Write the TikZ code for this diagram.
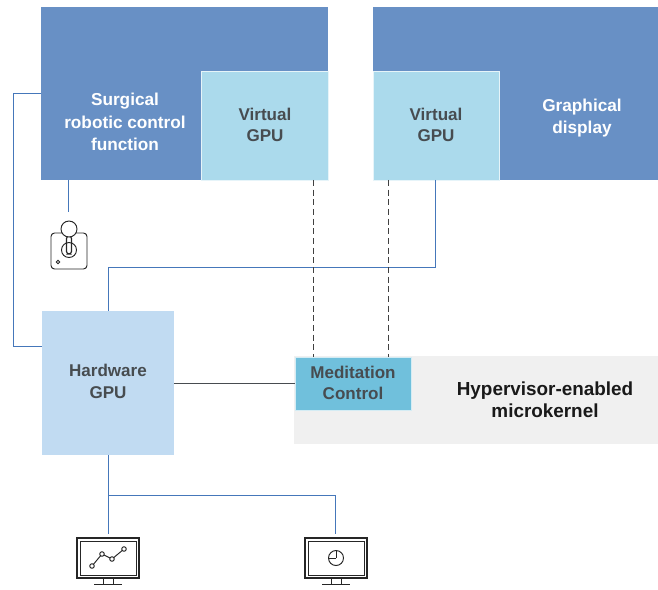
\documentclass[tikz,border=0pt]{standalone}
\usepackage{fontspec}
\setmainfont{Liberation Sans}
\usetikzlibrary{positioning}
\definecolor{funcblue}{HTML}{6890C5}
\definecolor{vgpublue}{HTML}{ABDAEC}
\definecolor{hwblue}{HTML}{C1DBF2}
\definecolor{medblue}{HTML}{70C0DC}
\definecolor{kernelgray}{HTML}{F0F0F0}
\definecolor{linkblue}{HTML}{4577BA}
\definecolor{labelgray}{HTML}{474C50}
\tikzset{
    x=0.02cm, y=-0.02cm,
    lbl/.style={font=\bfseries\fontsize{9.7}{12.3}\selectfont, align=center, text=labelgray, inner sep=0pt},
    lblwhite/.style={lbl, font=\bfseries\fontsize{9.8}{12.8}\selectfont, text=white},
    block/.style={inner sep=0pt, outer sep=0pt, anchor=north west},
    link/.style={draw=linkblue, line width=0.45pt},
    guide/.style={draw=black!75, line width=0.4pt, dash pattern=on 3.5pt off 2pt},
    icon/.style={draw=black!85, line width=0.55pt, inner sep=0pt, outer sep=0pt},
    screen/.style={icon, minimum width=1.24cm, minimum height=0.8cm, line width=0.8pt},
}
\begin{document}
\begin{tikzpicture}
    \useasboundingbox (0,0) rectangle (658,589);

    \node[block, fill=funcblue, minimum width=5.74cm, minimum height=3.46cm] (surgical) at (41,7) {};
    \node[block, fill=funcblue, minimum width=5.7cm, minimum height=3.46cm] (graphical) at (373,7) {};
    \node[block, fill=vgpublue, draw=white!70!vgpublue, line width=0.5pt, minimum width=2.54cm, minimum height=2.18cm] (vgpu1) at (201,71) {};
    \node[block, fill=vgpublue, draw=white!70!vgpublue, line width=0.5pt, minimum width=2.52cm, minimum height=2.18cm] (vgpu2) at (373,71) {};
    \node[block, fill=hwblue, minimum width=2.64cm, minimum height=2.88cm] (hwgpu) at (42,311) {};
    \node[block, fill=kernelgray, minimum width=7.28cm, minimum height=1.76cm] (kernel) at (294,356) {};
    \node[block, fill=medblue, draw=white!70!medblue, line width=0.5pt, minimum width=2.32cm, minimum height=1.06cm] (control) at (295,357) {};

    \node[lblwhite] at (125,122) {Surgical\\robotic control\\function};
    \node[lblwhite] at (582,118) {Graphical\\display};
    \node[lbl] at (265,125) {Virtual\\GPU};
    \node[lbl] at (436,125) {Virtual\\GPU};
    \node[lbl] at (108,381.5) {Hardware\\GPU};
    \node[lbl] at (353,383) {Meditation\\Control};
    \node[lbl, text=black!90, font=\bfseries\fontsize{10.75}{12.6}\selectfont] at (545,400) {Hypervisor-enabled\\microkernel};

    % joystick
    \node[icon, rounded corners=2pt, minimum width=0.72cm, minimum height=0.72cm, anchor=north west] (joybase) at (51,233) {};
    \node[icon, circle, minimum size=0.3cm] (joyring) at (69,250) {};
    \draw[icon, rounded corners=1.5pt, line width=0.7pt] (66.5,254) -- (66.5,236) -- (71.5,236) -- (71.5,254) -- cycle;
    \node[icon, circle, fill=white, minimum size=0.32cm] (joyball) at (69,229) {};
    \node[icon, circle, minimum size=0.07cm] (joydot) at (58,262) {};

    % monitors
    \foreach \name/\px in {mona/77, monb/305} {
        \node[screen, anchor=north west] (\name) at (\px,538) {};
        \node[icon, minimum width=1.12cm, minimum height=0.68cm] (\name in) at (\name.center) {};
        \draw[icon] (\px+26,578) -- (\px+26,584) (\px+36,578) -- (\px+36,584);
        \draw[icon, line width=0.9pt] (\px+17,584.5) -- (\px+45,584.5);
    }
    \foreach \name/\px/\py in {pa/92/566, pb/102/554, pc/112/559, pd/124/549} {
        \node[icon, circle, minimum size=0.09cm] (\name) at (\px,\py) {};
    }
    \draw[icon] (pa) -- (pb) (pb) -- (pc) (pc) -- (pd);
    \node[icon, circle, minimum size=0.3cm] (pie) at (336,558) {};
    \draw[icon] (336,558) -- (336,550.5) (336,558) -- (328.5,558);

    % connectors
    \coordinate (joyend) at (68,212);
    \coordinate (scra) at (108,534);
    \coordinate (scrb) at (335,534);
    \draw[link] (surgical.west |- 0,93) -- (13,93) -- (13,346) -- (hwgpu.west |- 0,346);
    \draw[link] (surgical.south -| joyend) -- (joyend);
    \draw[link] (vgpu2.south -| 435,0) -- (435,267) -- (108,267) -- (hwgpu.north -| 108,0);
    \draw[draw=labelgray, line width=0.45pt] (hwgpu.east |- control.west) -- (control.west);
    \draw[guide] (vgpu1.south -| 313,0) -- (control.north -| 313,0);
    \draw[guide] (vgpu2.south -| 388,0) -- (control.north -| 388,0);
    \draw[link] (hwgpu.south -| scra) -- (scra);
    \draw[link] (108,495) -- (335,495) -- (scrb);
\end{tikzpicture}
\end{document}
